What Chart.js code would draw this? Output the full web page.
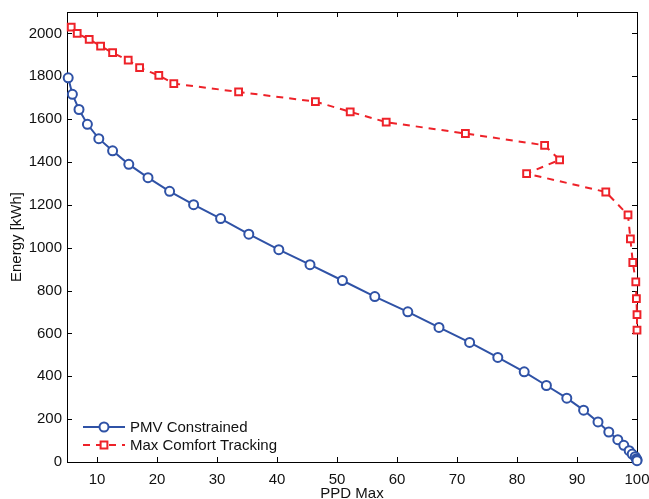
<!DOCTYPE html>
<html>
<head>
<meta charset="utf-8">
<script src="https://cdn.jsdelivr.net/npm/chart.js@4.4.1/dist/chart.umd.min.js"></script>
<style>
  html, body { margin: 0; padding: 0; background: #fff; }
</style>
</head>
<body>
<canvas id="energyChart" width="649" height="499"></canvas>
<script>
// PMV constrained curve
var pmvPpd    = [5.2, 5.9, 7.0, 8.4, 10.3, 12.6, 15.3, 18.5, 22.1, 26.1, 30.6, 35.3, 40.3, 45.5, 50.9, 56.3,
                 61.8, 67.0, 72.1, 76.8, 81.2, 84.9, 88.3, 91.1, 93.5, 95.3, 96.8, 97.8, 98.7, 99.2, 99.7, 99.9, 100, 100];
var pmvEnergy = [1793, 1716, 1645, 1576, 1509, 1452, 1389, 1327, 1263, 1201, 1136, 1063, 991, 921, 847, 772,
                 701, 628, 558, 488, 421, 357, 298, 242, 187, 140, 104, 78, 53, 37, 25, 15, 10, 6];

// max comfort tracking curve
var mctPpd    = [5.7, 6.7, 8.7, 10.6, 12.6, 15.2, 17.1, 20.3, 22.8, 33.6, 46.4, 52.2, 58.2, 71.4,
                 84.6, 87.1, 81.6, 94.8, 98.5, 98.9, 99.3, 99.8, 99.9, 100, 100];
var mctEnergy = [2029, 2000, 1972, 1941, 1910, 1875, 1840, 1804, 1766, 1727, 1682, 1634, 1586, 1533,
                 1478, 1410, 1346, 1260, 1153, 1041, 931, 841, 762, 688, 615];

var seriesNames = ['PMV Constrained', 'Max Comfort Tracking'];
var xTicks = [10, 20, 30, 40, 50, 60, 70, 80, 90, 100];
var yTicks = [0, 200, 400, 600, 800, 1000, 1200, 1400, 1600, 1800, 2000];

var blue = '#2f52a6';
var red = '#ee2229';
var fontFam = '"Liberation Sans", Arial, Helvetica, sans-serif';

function toXY(xs, ys) {
  return xs.map(function (x, i) { return { x: x, y: ys[i] }; });
}

// box round the plot with inward ticks on all four sides
var frameTicks = {
  id: 'frameTicks',
  beforeDatasetsDraw: function (chart) {
    var ctx = chart.ctx, a = chart.chartArea;
    var xs = chart.scales.x, ys = chart.scales.y;
    var len = 5;
    ctx.save();
    ctx.strokeStyle = '#000';
    ctx.lineWidth = 1;
    ctx.beginPath();
    xTicks.forEach(function (v) {
      var px = Math.round(xs.getPixelForValue(v)) + 0.5;
      ctx.moveTo(px, a.bottom); ctx.lineTo(px, a.bottom - len);
      ctx.moveTo(px, a.top); ctx.lineTo(px, a.top + len);
    });
    yTicks.forEach(function (v) {
      var py = Math.round(ys.getPixelForValue(v)) + 0.5;
      ctx.moveTo(a.left, py); ctx.lineTo(a.left + len, py);
      ctx.moveTo(a.right, py); ctx.lineTo(a.right - len, py);
    });
    ctx.stroke();
    ctx.strokeRect(Math.round(a.left) + 0.5, Math.round(a.top) + 0.5,
                   Math.round(a.right - a.left), Math.round(a.bottom - a.top));
    ctx.restore();
  }
};

// legend in the lower left corner: line + marker + text
var cornerLegend = {
  id: 'cornerLegend',
  afterDatasetsDraw: function (chart) {
    var ctx = chart.ctx, a = chart.chartArea;
    var x0 = a.left + 16, x1 = a.left + 58, y0 = a.bottom - 35;
    ctx.save();
    chart.data.datasets.forEach(function (ds, i) {
      var y = y0 + i * 18;
      ctx.strokeStyle = ds.borderColor;
      ctx.lineWidth = ds.borderWidth;
      ctx.setLineDash(ds.borderDash || []);
      ctx.beginPath();
      ctx.moveTo(x0, y); ctx.lineTo(x1, y);
      ctx.stroke();
      ctx.setLineDash([]);
      ctx.fillStyle = '#fff';
      ctx.strokeStyle = ds.pointBorderColor;
      ctx.lineWidth = ds.pointBorderWidth;
      Chart.helpers.drawPoint(ctx, {
        pointStyle: ds.pointStyle, radius: ds.pointRadius, rotation: 0, borderWidth: ds.pointBorderWidth
      }, (x0 + x1) / 2, y);
      ctx.fillStyle = '#111';
      ctx.font = '15px ' + fontFam;
      ctx.textBaseline = 'middle';
      ctx.textAlign = 'left';
      ctx.fillText(ds.label, x1 + 5, y + 1);
    });
    ctx.restore();
  }
};

new Chart(document.getElementById('energyChart'), {
  type: 'line',
  data: {
    datasets: [
      {
        label: seriesNames[0],
        data: toXY(pmvPpd, pmvEnergy),
        borderColor: blue,
        borderWidth: 2,
        pointStyle: 'circle',
        pointRadius: 4.5,
        pointBorderWidth: 2,
        pointBorderColor: blue,
        pointBackgroundColor: '#fff',
        clip: false
      },
      {
        label: seriesNames[1],
        data: toXY(mctPpd, mctEnergy),
        borderColor: red,
        borderWidth: 2,
        borderDash: [7, 6],
        pointStyle: 'rect',
        pointRadius: 4.8,
        pointBorderWidth: 2,
        pointBorderColor: red,
        pointBackgroundColor: '#fff',
        clip: false
      }
    ]
  },
  options: {
    responsive: false,
    animation: false,
    layout: { padding: { left: 0, top: 12, right: 12, bottom: 0 } },
    plugins: { legend: { display: false }, tooltip: { enabled: false } },
    elements: { line: { tension: 0 } },
    scales: {
      x: {
        type: 'linear',
        min: 5,
        max: 100,
        afterBuildTicks: function (s) { s.ticks = xTicks.map(function (v) { return { value: v }; }); },
        afterFit: function (s) { s.height = 37; s.paddingLeft = 0; s.paddingRight = 0; },
        grid: { display: false, drawTicks: false },
        border: { display: false },
        ticks: { color: '#111', padding: 9, font: { family: fontFam, size: 15 }, maxRotation: 0,
                 callback: function (v) { return String(v); } },
        title: { display: true, text: 'PPD Max', color: '#111', padding: { top: 0, bottom: -4 },
                 font: { family: fontFam, size: 15 } }
      },
      y: {
        type: 'linear',
        min: 0,
        max: 2100,
        afterBuildTicks: function (s) { s.ticks = yTicks.map(function (v) { return { value: v }; }); },
        afterFit: function (s) { s.width = 67; s.paddingTop = 0; s.paddingBottom = 0; },
        grid: { display: false, drawTicks: false },
        border: { display: false },
        ticks: { color: '#111', padding: 5, font: { family: fontFam, size: 15 },
                 callback: function (v) { return String(v); } },
        title: { display: true, text: 'Energy [kWh]', color: '#111', padding: { top: 8 },
                 font: { family: fontFam, size: 15 } }
      }
    }
  },
  plugins: [frameTicks, cornerLegend]
});
</script>
</body>
</html>
